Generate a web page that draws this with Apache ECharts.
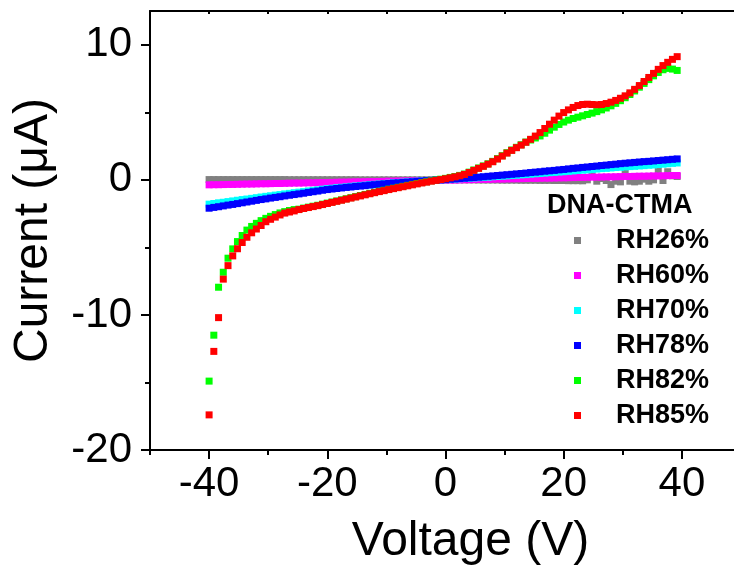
<!DOCTYPE html>
<html>
<head>
<meta charset="utf-8">
<script src="https://cdn.jsdelivr.net/npm/echarts@6/dist/echarts.min.js"></script>
<style>html,body{margin:0;padding:0;background:#fff;}#c{width:734px;height:567px;}</style>
</head>
<body>
<div id="c"></div>
<script>
var voltage = [-40,-39.2,-38.4,-37.6,-36.8,-36,-35.2,-34.4,-33.6,-32.8,-32,-31.2,-30.4,-29.6,-28.8,-28,-27.2,-26.4,-25.6,-24.8,-24,-23.2,-22.4,-21.6,-20.8,-20,-19.2,-18.4,-17.6,-16.8,-16,-15.2,-14.4,-13.6,-12.8,-12,-11.2,-10.4,-9.6,-8.8,-8,-7.2,-6.4,-5.6,-4.8,-4,-3.2,-2.4,-1.6,-0.8,0,0.8,1.6,2.4,3.2,4,4.8,5.6,6.4,7.2,8,8.8,9.6,10.4,11.2,12,12.8,13.6,14.4,15.2,16,16.8,17.6,18.4,19.2,20,20.8,21.6,22.4,23.2,24,24.8,25.6,26.4,27.2,28,28.8,29.6,30.4,31.2,32,32.8,33.6,34.4,35.2,36,36.8,37.6,38.4,39.2];

var rh26 = [0.02,0.02,0.02,0.02,0.02,0.02,0.02,0.02,0.02,0.02,0.02,0.02,0.02,0.02,0.02,0.02,0.02,0.01,0.01,0.01,0.01,0.01,0.01,0.01,0.01,0.01,0.01,0.01,0.01,0.01,0.01,0.01,0.00,0.00,0.00,0.00,0.00,0.00,0.00,0.00,0.00,0.00,0.00,0.00,0.00,0.00,0.00,0.00,0.00,0.00,0.00,0.00,0.00,0.00,0.00,0.00,0.00,-0.01,-0.01,-0.01,-0.01,-0.01,-0.02,-0.02,-0.02,-0.02,-0.03,-0.03,-0.03,-0.03,-0.04,-0.04,-0.04,-0.05,-0.05,-0.05,-0.06,-0.06,-0.06,-0.07,0.00,0.45,-0.10,0.10,-0.05,-0.35,-0.10,-0.15,0.60,-0.10,-0.15,-0.10,0.05,-0.10,0.00,0.75,-0.05,0.60,0.30,0.25];

var rh60 = [-0.37,-0.36,-0.36,-0.35,-0.34,-0.34,-0.33,-0.32,-0.31,-0.31,-0.30,-0.29,-0.29,-0.28,-0.27,-0.27,-0.26,-0.25,-0.24,-0.24,-0.23,-0.22,-0.22,-0.21,-0.20,-0.20,-0.19,-0.18,-0.17,-0.17,-0.16,-0.15,-0.15,-0.14,-0.13,-0.13,-0.12,-0.11,-0.10,-0.10,-0.09,-0.08,-0.08,-0.07,-0.06,-0.06,-0.05,-0.04,-0.03,-0.03,-0.02,-0.01,-0.01,0.00,0.01,0.01,0.02,0.03,0.04,0.04,0.05,0.06,0.06,0.07,0.08,0.08,0.09,0.10,0.11,0.11,0.12,0.13,0.13,0.14,0.15,0.15,0.16,0.17,0.18,0.18,0.19,0.20,0.20,0.21,0.22,0.22,0.23,0.24,0.25,0.25,0.26,0.27,0.27,0.28,0.29,0.29,0.30,0.31,0.32,0.32];

var rh70 = [-1.80,-1.75,-1.70,-1.66,-1.61,-1.56,-1.51,-1.46,-1.42,-1.37,-1.32,-1.27,-1.22,-1.18,-1.13,-1.09,-1.04,-1.00,-0.95,-0.91,-0.87,-0.82,-0.78,-0.74,-0.69,-0.65,-0.62,-0.58,-0.55,-0.52,-0.48,-0.45,-0.42,-0.39,-0.36,-0.33,-0.31,-0.28,-0.25,-0.22,-0.20,-0.17,-0.15,-0.13,-0.10,-0.08,-0.06,-0.04,-0.01,0.00,0.01,0.04,0.06,0.08,0.10,0.12,0.14,0.16,0.18,0.20,0.23,0.25,0.27,0.29,0.32,0.34,0.37,0.39,0.42,0.45,0.47,0.50,0.53,0.55,0.58,0.60,0.63,0.66,0.69,0.72,0.74,0.77,0.80,0.83,0.85,0.88,0.91,0.93,0.96,0.98,1.00,1.03,1.05,1.08,1.10,1.13,1.16,1.19,1.22,1.25];

var rh78 = [-2.10,-2.04,-1.99,-1.93,-1.87,-1.82,-1.76,-1.70,-1.64,-1.58,-1.52,-1.46,-1.41,-1.35,-1.30,-1.25,-1.19,-1.14,-1.09,-1.04,-0.99,-0.93,-0.88,-0.83,-0.77,-0.72,-0.68,-0.64,-0.60,-0.56,-0.53,-0.49,-0.46,-0.43,-0.39,-0.36,-0.33,-0.30,-0.27,-0.24,-0.22,-0.19,-0.17,-0.14,-0.11,-0.09,-0.06,-0.04,-0.01,0.00,0.02,0.05,0.07,0.10,0.12,0.15,0.17,0.20,0.23,0.26,0.29,0.32,0.35,0.38,0.41,0.44,0.47,0.50,0.54,0.57,0.60,0.64,0.67,0.70,0.74,0.77,0.81,0.85,0.88,0.92,0.95,0.99,1.02,1.06,1.09,1.13,1.16,1.20,1.23,1.26,1.29,1.32,1.35,1.37,1.40,1.43,1.46,1.49,1.52,1.55];

var rh82 = [-14.9,-11.5,-7.95,-6.84,-5.80,-5.11,-4.57,-4.12,-3.72,-3.45,-3.22,-3.02,-2.85,-2.70,-2.57,-2.45,-2.35,-2.27,-2.20,-2.17,-2.09,-2.02,-1.95,-1.88,-1.80,-1.72,-1.64,-1.56,-1.48,-1.40,-1.32,-1.24,-1.16,-1.08,-1.00,-0.92,-0.84,-0.77,-0.69,-0.62,-0.55,-0.48,-0.41,-0.34,-0.27,-0.20,-0.14,-0.07,-0.01,0.05,0.11,0.18,0.25,0.33,0.43,0.57,0.73,0.88,1.03,1.19,1.37,1.57,1.79,2.01,2.21,2.41,2.60,2.80,2.95,3.10,3.25,3.45,3.68,3.90,4.10,4.28,4.42,4.54,4.64,4.74,4.84,4.94,5.05,5.18,5.32,5.48,5.66,5.86,6.08,6.32,6.58,6.86,7.14,7.42,7.70,7.95,8.15,8.25,8.20,8.10];

var rh85 = [-17.4,-12.7,-10.2,-7.35,-6.35,-5.63,-5.10,-4.64,-4.25,-3.92,-3.64,-3.38,-3.10,-2.92,-2.76,-2.60,-2.46,-2.38,-2.30,-2.20,-2.12,-2.05,-1.98,-1.91,-1.83,-1.75,-1.67,-1.59,-1.51,-1.43,-1.35,-1.27,-1.19,-1.11,-1.03,-0.95,-0.87,-0.80,-0.72,-0.65,-0.58,-0.51,-0.44,-0.37,-0.30,-0.23,-0.17,-0.10,-0.04,0.02,0.08,0.15,0.22,0.30,0.40,0.54,0.70,0.85,1.00,1.16,1.34,1.54,1.76,1.98,2.18,2.38,2.57,2.78,3.00,3.24,3.50,3.80,4.12,4.42,4.72,4.98,5.18,5.36,5.50,5.58,5.60,5.58,5.56,5.58,5.65,5.75,5.88,6.04,6.22,6.44,6.70,6.98,7.28,7.58,7.88,8.18,8.46,8.70,8.92,9.12];

var seriesNames = ['RH26%','RH60%','RH70%','RH78%','RH82%','RH85%'];
var seriesColors = ['#808080','#ff00ff','#00ffff','#0000ff','#00ff00','#ff0000'];
var seriesValues = [rh26, rh60, rh70, rh78, rh82, rh85];

var xMajorTicks = [-40,-20,0,20,40];
var xMinorTicks = [-50,-30,-10,10,30];
var yMajorTicks = [-20,-10,0,10];
var yMinorTicks = [-15,-5,5];

var FONT = 'Liberation Sans';

function pairs(vals){
  var out = [];
  for (var i = 0; i < voltage.length; i++) out.push([voltage[i], vals[i]]);
  return out;
}

var series = seriesNames.map(function(n, k){
  return {
    name: n, type: 'scatter', xAxisIndex: 0, yAxisIndex: 0,
    symbol: 'rect', symbolSize: 7,
    itemStyle: {color: seriesColors[k], opacity: 1},
    emphasis: {disabled: true},
    data: pairs(seriesValues[k]), z: 2 + k
  };
});

var chart = echarts.init(document.getElementById('c'), null, {renderer: 'canvas'});
var blackLine = {color: '#000', width: 2};
chart.setOption({
  animation: false,
  backgroundColor: '#fff',
  grid: {left: 150, right: -7, top: 11, bottom: 117, containLabel: false, outerBoundsMode: 'none'},
  xAxis: [
    {type: 'value', min: -50, max: 50, interval: 10, position: 'bottom',
     axisLine: {show: true, onZero: false, lineStyle: blackLine},
     axisTick: {show: true, customValues: xMajorTicks, length: 9, lineStyle: blackLine},
     axisLabel: {customValues: xMajorTicks, fontSize: 42, color: '#000', fontFamily: FONT, margin: 13},
     splitLine: {show: false},
     name: 'Voltage (V)', nameLocation: 'middle', nameGap: 68,
     nameTextStyle: {fontSize: 48, color: '#000', fontFamily: FONT, padding: [0, 0, 0, 50]}},
    {type: 'value', min: -50, max: 50, interval: 10, position: 'bottom',
     axisLine: {show: false, onZero: false},
     axisTick: {show: true, customValues: xMinorTicks, length: 5, lineStyle: blackLine},
     axisLabel: {show: false}, splitLine: {show: false}},
    {type: 'value', min: -50, max: 50, interval: 10, position: 'top',
     axisLine: {show: true, onZero: false, lineStyle: blackLine},
     axisTick: {show: true, inside: true, length: 3, lineStyle: blackLine},
     axisLabel: {show: false}, splitLine: {show: false}}
  ],
  yAxis: [
    {type: 'value', min: -20, max: 12.5, interval: 5, position: 'left',
     axisLine: {show: true, onZero: false, lineStyle: blackLine},
     axisTick: {show: true, customValues: yMajorTicks, length: 9, lineStyle: blackLine},
     axisLabel: {customValues: yMajorTicks, fontSize: 42, color: '#000', fontFamily: FONT, margin: 18},
     splitLine: {show: false},
     name: 'Current (\u03bcA)', nameLocation: 'middle', nameGap: 92,
     nameTextStyle: {fontSize: 48, color: '#000', fontFamily: FONT}},
    {type: 'value', min: -20, max: 12.5, interval: 5, position: 'left',
     axisLine: {show: false, onZero: false},
     axisTick: {show: true, customValues: yMinorTicks, length: 5, lineStyle: blackLine},
     axisLabel: {show: false}, splitLine: {show: false}}
  ],
  legend: {
    orient: 'vertical', left: 574, top: 227, padding: 0, itemGap: 8,
    icon: 'rect', itemWidth: 7, itemHeight: 7, selectedMode: false,
    data: seriesNames,
    textStyle: {fontSize: 27, fontWeight: 'bold', color: '#000', fontFamily: FONT, lineHeight: 26, padding: [0, 0, 0, 30]}
  },
  graphic: [{
    type: 'text', left: 547, top: 192,
    style: {text: 'DNA-CTMA', font: 'bold 27px "Liberation Sans"', fill: '#000'}
  }],
  series: series
});
</script>
</body>
</html>
